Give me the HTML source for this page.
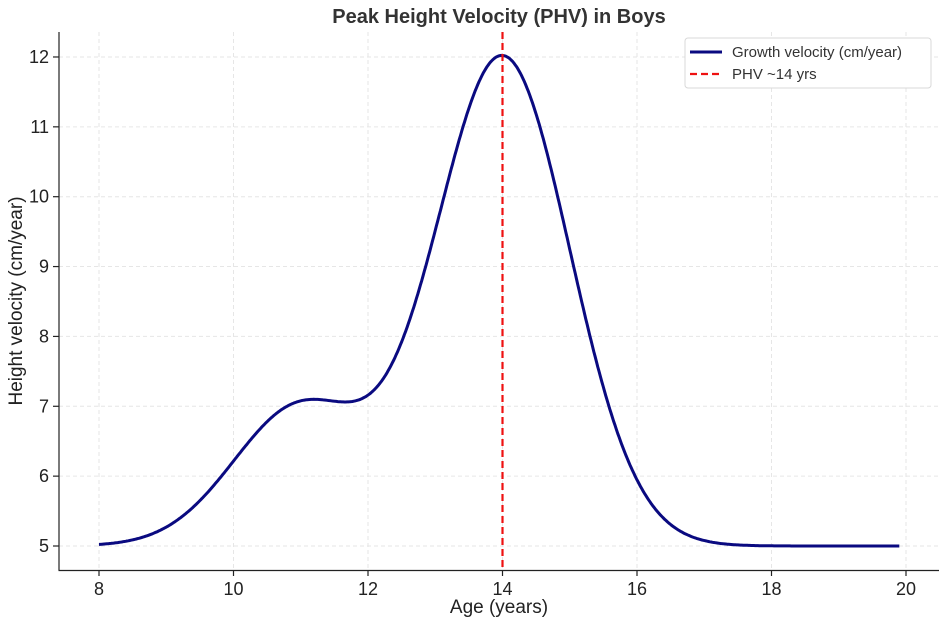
<!DOCTYPE html>
<html><head><meta charset="utf-8"><style>
html,body{margin:0;padding:0;background:#fff;}
svg{display:block;font-family:"Liberation Sans","DejaVu Sans",sans-serif;}
</style></head><body>
<svg id="s" width="945" height="621" viewBox="0 0 945 621" xmlns="http://www.w3.org/2000/svg">
<rect width="945" height="621" fill="#fff"/>
<g id="grid" stroke="#e6e6e6" stroke-width="1" stroke-dasharray="4,3"></g>
<polyline id="curve" fill="none" stroke="#0a0a80" stroke-width="3" stroke-linejoin="round"/>
<line x1="502.5" y1="32" x2="502.5" y2="570" stroke="#ee1111" stroke-width="2.2" stroke-dasharray="7,4"/>
<g stroke="#222" stroke-width="1.2">
<line x1="59" y1="32" x2="59" y2="570.5"/>
<line x1="58.5" y1="570.5" x2="939" y2="570.5"/>
</g>
<g id="ticks" stroke="#222" stroke-width="1.2"></g>
<g id="labels" font-size="18" fill="#222"></g>
<text x="499" y="23" text-anchor="middle" font-size="20" font-weight="bold" fill="#333">Peak Height Velocity (PHV) in Boys</text>
<text x="499" y="613" text-anchor="middle" font-size="19" fill="#222">Age (years)</text>
<text transform="translate(22,301) rotate(-90)" text-anchor="middle" font-size="19" fill="#222">Height velocity (cm/year)</text>
<g>
<rect x="685" y="38" width="246" height="50" rx="3" fill="#fff" stroke="#d8d8d8"/>
<line x1="690" y1="52" x2="722" y2="52" stroke="#0a0a80" stroke-width="3"/>
<text x="732" y="57" font-size="15" fill="#333">Growth velocity (cm/year)</text>
<line x1="690" y1="74" x2="722" y2="74" stroke="#ee1111" stroke-width="2.2" stroke-dasharray="7,4"/>
<text x="732" y="79" font-size="15" fill="#333">PHV ~14 yrs</text>
</g>
<script>
(function(){
var ns="http://www.w3.org/2000/svg";
function X(a){return 99+(a-8)*67.25;}
function Y(v){return 546-(v-5)*69.86;}
var g=document.getElementById('grid'),t=document.getElementById('ticks'),l=document.getElementById('labels');
function el(p,n,at,txt){var e=document.createElementNS(ns,n);for(var k in at)e.setAttribute(k,at[k]);if(txt)e.textContent=txt;p.appendChild(e);}
for(var a=8;a<=20;a+=2){var x=X(a);el(g,'line',{x1:x,y1:32,x2:x,y2:570});el(t,'line',{x1:x,y1:570,x2:x,y2:576});el(l,'text',{x:x,y:595,'text-anchor':'middle'},String(a));}
for(var v=5;v<=12;v++){var y=Y(v);el(g,'line',{x1:59,y1:y,x2:939,y2:y});el(t,'line',{x1:53,y1:y,x2:59,y2:y});el(l,'text',{x:49,y:y+6,'text-anchor':'end'},String(v));}
var pts=[];for(var i=0;i<=600;i++){var a=8+11.9*i/600;var v=5+2*Math.exp(-Math.pow(a-11,2)/2)+7*Math.exp(-Math.pow(a-14,2)/2);pts.push(X(a).toFixed(1)+','+Y(v).toFixed(1));}
document.getElementById('curve').setAttribute('points',pts.join(' '));
})();
</script>
</svg>
</body></html>
